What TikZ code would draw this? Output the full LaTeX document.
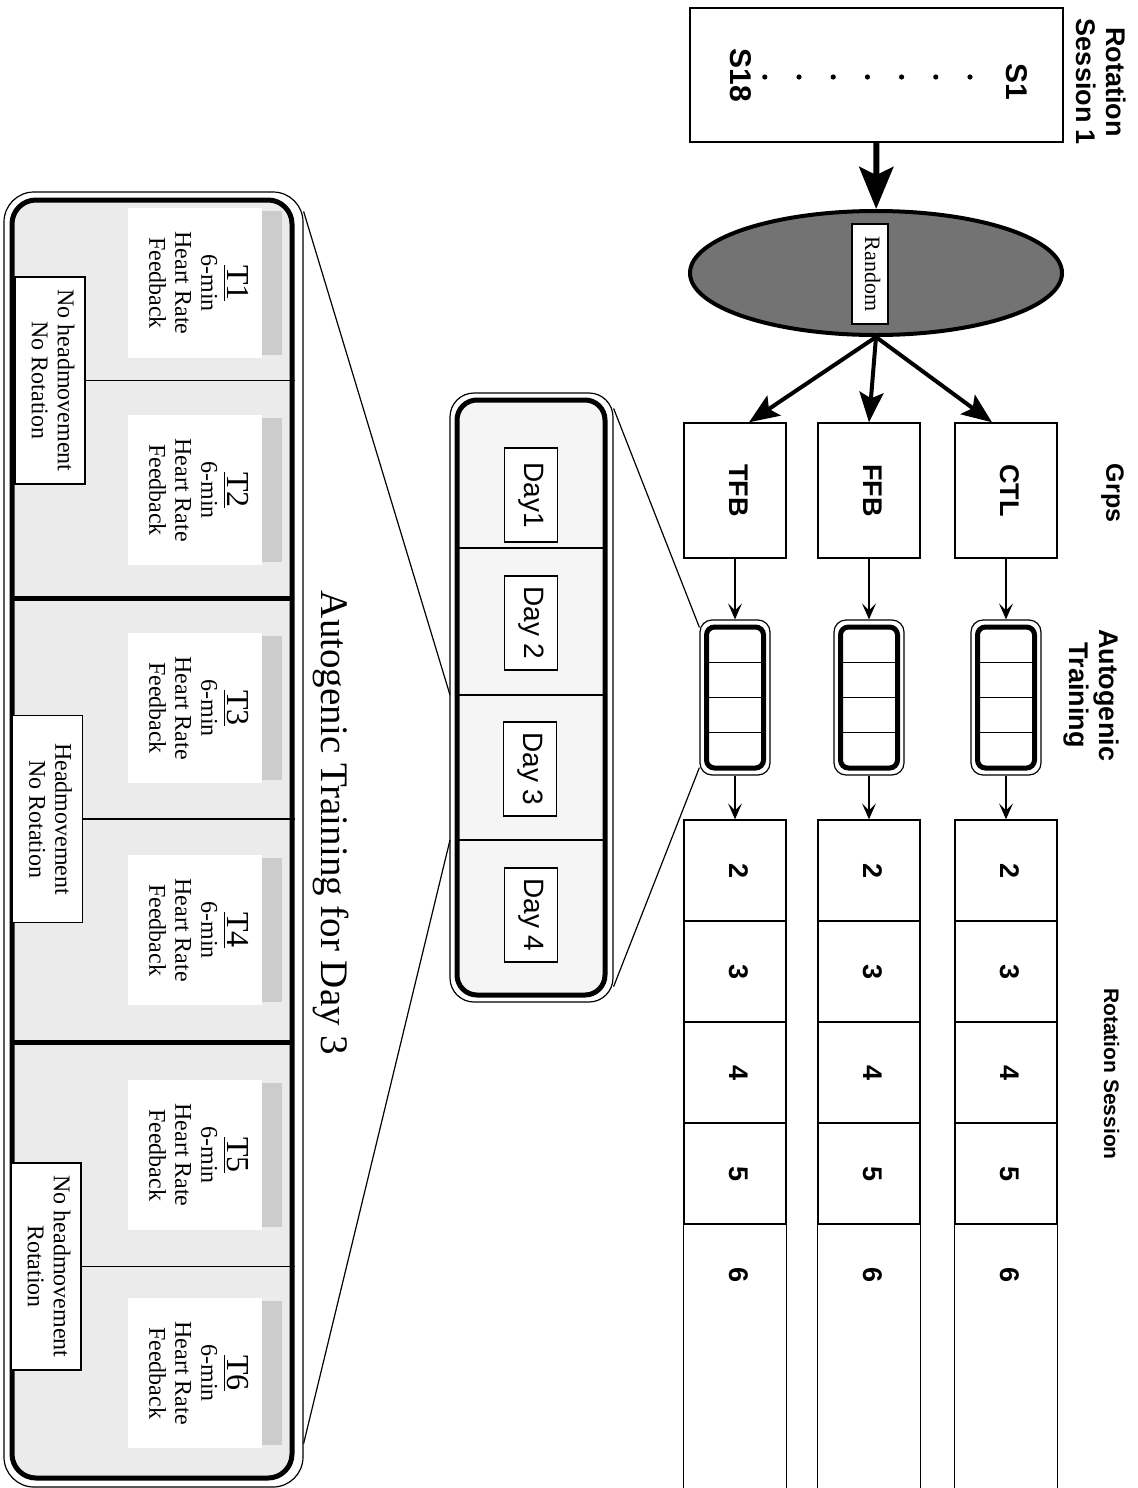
\documentclass[tikz,border=0pt]{standalone}
\usepackage{fontspec}
\setmainfont{Liberation Serif}
\newfontfamily\hv{Liberation Sans}
\usetikzlibrary{arrows.meta,shapes.geometric}
\newcommand{\vt}[1]{\rotatebox{-90}{\begin{tabular}{@{}c@{}}#1\end{tabular}}}

\begin{document}
\begin{tikzpicture}[
  x=0.5pt, y=-0.5pt,
  every node/.style={inner sep=0pt},
  box/.style={draw,line width=0.7pt,fill=white},
  outerframe/.style={draw,line width=0.6pt,fill=white},
  innerframe/.style={draw,line width=2.5pt},
  grpbox/.style={box,minimum width=51pt,minimum height=67.5pt,font=\hv\bfseries\fontsize{13.5}{15}\selectfont},
  cell/.style={box,minimum width=51pt,minimum height=50.5pt,font=\hv\bfseries\fontsize{13.5}{15}\selectfont},
  dayl/.style={box,minimum width=26.5pt,minimum height=47pt,font=\hv\fontsize{14}{16}\selectfont},
  tblock/.style={fill=white,minimum width=67pt,minimum height=75pt,font=\fontsize{12}{13}\selectfont},
  cond/.style={box,minimum width=35pt,minimum height=103.5pt,font=\fontsize{12}{13}\selectfont},
  bigarrow/.style={-{Stealth[length=21pt,width=17pt,inset=4pt]},line width=3pt},
  grparrow/.style={-{Stealth[length=15pt,width=12pt,inset=3pt]},line width=2pt},
  thinarrow/.style={-{Stealth[length=8pt,width=7pt,inset=3.5pt]},line width=0.6pt}
]
  \useasboundingbox (0,0) rectangle (1137,1488);

  % session 1 and randomisation
  \node[font=\hv\bfseries\fontsize{13.5}{15}\selectfont] (toplbl) at (1097,82) {\vt{Rotation\\Session 1}};
  \node[box,minimum width=186.5pt,minimum height=67pt] (sessbox) at (876.5,75) {};
  \node[font=\hv\bfseries\fontsize{15}{17}\selectfont] (s1) at (1013,82) {\vt{S1}};
  \node[font=\hv\bfseries\fontsize{15}{17}\selectfont] (s18) at (737,75) {\vt{S18}};
  \foreach \dx in {0,...,6}
    \fill ({970-34.2*\dx},77) circle (1.3pt);
  \node[ellipse,draw,line width=2pt,fill=black!55,minimum width=186pt,minimum height=62pt] (random) at (876,273) {};
  \node[box,minimum width=18pt,minimum height=50pt,font=\fontsize{11}{12}\selectfont] (randlbl) at (870,274) {\vt{Random}};
  \draw[bigarrow] (sessbox) -- (random);

  % column labels
  \node[font=\hv\bfseries\fontsize{12.5}{14}\selectfont] (grpslbl) at (1112,493) {\vt{Grps}};
  \node[font=\hv\bfseries\fontsize{13.5}{15}\selectfont] (atlbl) at (1090,695) {\vt{Autogenic\\Training}};
  \node[font=\hv\bfseries\fontsize{10.5}{12}\selectfont] (rslbl) at (1109,1074) {\vt{Rotation Session}};

  % groups
  \foreach \g/\x/\lab in {tfb/735/TFB,ffb/869/FFB,ctl/1006/CTL}{
    \node[grpbox] (\g) at (\x,490.5) {\vt{\lab}};
    \node[outerframe,rounded corners=6pt,minimum width=35pt,minimum height=77.5pt] (at\g) at (\x,697.5) {};
    \node[innerframe,rounded corners=4pt,minimum width=28.5pt,minimum height=70.5pt] (in\g) at (\x,697.5) {};
    \foreach \d in {-35,0,35}
      \draw[line width=0.6pt] ({\x-28},{697.5+\d}) -- ({\x+28},{697.5+\d});
    \draw[thinarrow] (\g) -- (at\g);
    \foreach \k [count=\i from 0] in {2,...,5}
      \node[cell] (\g\k) at (\x,{870.5+101*\i}) {\vt{\k}};
    \node[font=\hv\bfseries\fontsize{13.5}{15}\selectfont] (\g6) at (\x,1274.5) {\vt{6}};
    \draw[line width=0.7pt] (\g5.south west) -- ++(0,280) (\g5.south east) -- ++(0,280);
    \draw[thinarrow] (at\g) -- (\g2);
  }
  \draw[grparrow] (random.south) -- ([xshift=7pt]tfb.north);
  \draw[grparrow] (random.south) -- (ffb.north);
  \draw[grparrow] (random.south) -- ([xshift=-7pt]ctl.north);

  % training days
  \node[outerframe,rounded corners=12pt,minimum width=81.5pt,minimum height=304.5pt] (dayframe) at (531.5,697.5) {};
  \node[innerframe,rounded corners=10pt,fill=black!4,minimum width=74pt,minimum height=297.5pt] (dayin) at (531,697.5) {};
  \foreach \yy in {548,695,840}
    \draw[line width=0.6pt] (457,\yy) -- (605,\yy);
  \node[dayl] (day1) at (531,495) {\vt{Day1}};
  \node[dayl] (day2) at (531,623) {\vt{Day 2}};
  \node[dayl] (day3) at (530,769) {\vt{Day 3}};
  \node[dayl] (day4) at (531,915) {\vt{Day 4}};
  \coordinate (d3top) at (450,695);
  \coordinate (d3bot) at (450,840);

  % day 3 in detail
  \node[font=\fontsize{19.5}{22}\selectfont] (title) at (330,823) {\vt{Autogenic Training for Day 3}};
  \node[outerframe,rounded corners=15pt,minimum width=149.5pt,minimum height=647.5pt] (bigframe) at (153.5,839.5) {};
  \node[innerframe,rounded corners=12pt,fill=black!8,minimum width=140pt,minimum height=639pt] (bigin) at (152,839) {};
  \foreach \t/\yy in {1/283,2/490,3/708,4/930,5/1155,6/1373}{
    \fill[black!20] (262,{\yy-72}) rectangle (282,{\yy+72});
    \node[tblock] (t\t) at (195,\yy) {\vt{{\fontsize{16}{17}\selectfont\underline{T\t}}\\6-min\\Heart Rate\\Feedback}};
  }
  \draw[line width=2.5pt] (12,598) -- (292,598);
  \draw[line width=2.5pt] (12,1042) -- (292,1042);
  \node[cond] (cond1) at (50,380.5) {\vt{No headmovement\\No Rotation}};
  \node[cond] (cond2) at (47.5,819) {\vt{Headmovement\\No Rotation}};
  \node[cond] (cond3) at (46,1266.5) {\vt{No headmovement\\Rotation}};
  \draw[line width=0.6pt] (cond1.east) -- (cond1.east -| bigin.east);
  \draw[line width=0.6pt] (cond2.east) -- (cond2.east -| bigin.east);
  \draw[line width=0.6pt] (cond3.east) -- (cond3.east -| bigin.east);

  % zoom lines
  \draw[line width=0.6pt] ([yshift=-4pt]attfb.north west) -- ([yshift=-8pt]dayframe.north east);
  \draw[line width=0.6pt] ([yshift=4pt]attfb.south west) -- ([yshift=8pt]dayframe.south east);
  \draw[line width=0.6pt] (d3top) -- ([yshift=-10pt]bigframe.north east);
  \draw[line width=0.6pt] (d3bot) -- ([yshift=22pt]bigframe.south east);
\end{tikzpicture}
\end{document}
